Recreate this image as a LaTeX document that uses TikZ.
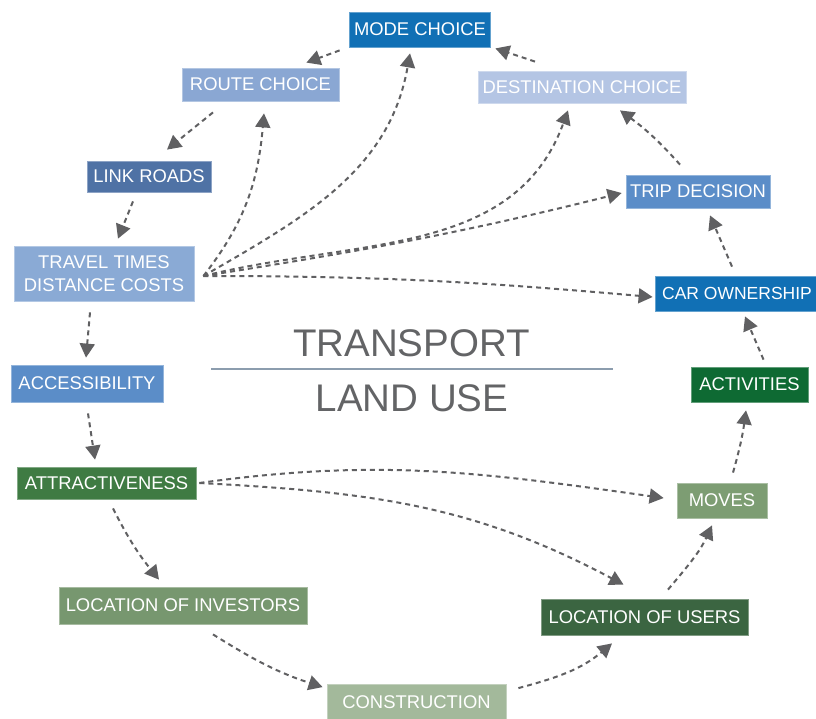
\documentclass[tikz,border=0pt]{standalone}
\usepackage{fontspec}
\setmainfont{Liberation Sans}
\usetikzlibrary{arrows.meta}
\definecolor{cMode}{HTML}{1170B5}
\definecolor{cRoute}{HTML}{8AA7D3}
\definecolor{cDest}{HTML}{B4C5E4}
\definecolor{cLink}{HTML}{4F72A5}
\definecolor{cTT}{HTML}{8AAAD5}
\definecolor{cTrip}{HTML}{5B8DC8}
\definecolor{cAttr}{HTML}{3F7B43}
\definecolor{cInv}{HTML}{77976F}
\definecolor{cCons}{HTML}{A3B99B}
\definecolor{cAct}{HTML}{0E6A33}
\definecolor{cMoves}{HTML}{7D9D73}
\definecolor{cUsers}{HTML}{3B6541}
\definecolor{cArrow}{HTML}{606062}
\definecolor{cTitle}{HTML}{636466}
\definecolor{cLine}{HTML}{8C9DAE}
\newcommand{\boxfont}{\fontsize{18.4}{23}\selectfont}
\begin{document}
\begin{tikzpicture}[x=1pt,y=1pt,
  box/.style={fill=#1, draw=#1!65!white, line width=0.8pt, text=white, font=\boxfont, inner sep=0pt, align=center},
  arr/.style={draw=cArrow, line width=2pt, dash pattern=on 5pt off 4pt, -{Triangle[length=14pt,width=15pt]}},
  title/.style={font=\fontsize{38.5}{40}\selectfont, text=cTitle, inner sep=0pt}]
\fill[white] (0,0) rectangle (816,-718);
\useasboundingbox (0,0) rectangle (816,-718);

\node[box=cMode, minimum width=141pt, minimum height=35pt] (mode) at (420,-29.5) {MODE CHOICE};
\node[box=cRoute, minimum width=157pt, minimum height=33pt] (route) at (260.5,-84.5) {ROUTE CHOICE};
\node[box=cDest, minimum width=208pt, minimum height=32pt] (dest) at (582,-87) {DESTINATION CHOICE};
\node[box=cLink, minimum width=124pt, minimum height=31pt] (link) at (149,-176.5) {LINK ROADS};
\node[box=cTT, minimum width=180pt, minimum height=55pt] (tt) at (104,-273.5) {TRAVEL TIMES\\DISTANCE COSTS};
\node[box=cTrip, minimum width=144pt, minimum height=33pt] (trip) at (698,-191.5) {TRIP DECISION};
\node[box=cMode, minimum width=164pt, minimum height=35pt, font=\fontsize{17.5}{21}\selectfont] (car) at (737,-293.5) {CAR OWNERSHIP};
\node[box=cTrip, minimum width=152pt, minimum height=37pt] (access) at (87,-383.5) {ACCESSIBILITY};
\node[box=cAttr, minimum width=179pt, minimum height=32pt] (attr) at (106.5,-483) {ATTRACTIVENESS};
\node[box=cInv, minimum width=248pt, minimum height=37pt] (inv) at (183,-605.5) {LOCATION OF INVESTORS};
\node[box=cCons, minimum width=179pt, minimum height=35pt] (cons) at (416.5,-702) {CONSTRUCTION};
\node[box=cAct, minimum width=117pt, minimum height=35pt] (act) at (749.5,-384.5) {ACTIVITIES};
\node[box=cMoves, minimum width=90pt, minimum height=35pt] (moves) at (722,-500.5) {MOVES};
\node[box=cUsers, minimum width=207pt, minimum height=36pt] (users) at (644.5,-617) {LOCATION OF USERS};

\node[title] (transport) at (411.5,-343) {TRANSPORT};
\node[title] (landuse) at (412,-398.5) {LAND USE};
\coordinate (sepL) at (211,-369);
\coordinate (sepR) at (613,-369);
\draw[cLine, line width=1.3pt] (sepL) -- (sepR);

% cycle arrows
\draw[arr] ([shift={(-9.5,-3)}]mode.south west) -- ([shift={(-33,5)}]route.north east);
\draw[arr] ([shift={(-47,9)}]dest.north) -- ([shift={(4.5,-1)}]mode.south east);
\draw[arr] ([shift={(-47.5,-11)}]route.south) -- ([shift={(18,11)}]link.north);
\draw[arr] ([shift={(-16,-9)}]link.south) -- ([shift={(14,7)}]tt.north);
\draw[arr] ([shift={(-14,-11)}]tt.south) -- ([shift={(-1,7)}]access.north);
\draw[arr] ([shift={(1,-11)}]access.south) -- ([shift={(-11.5,7)}]attr.north);
\draw[arr] ([shift={(6.5,-9)}]attr.south) to[bend right=6] ([shift={(-24,7)}]inv.north);
\draw[arr] ([shift={(30,-10)}]inv.south) to[out=-32,in=162] ([shift={(-4,-3)}]cons.north west);
\draw[arr] ([shift={(12,-4)}]cons.north east) to[out=15,in=-140] ([shift={(-32.5,-8)}]users.south);
\draw[arr] ([shift={(23.5,9)}]users.north) to[out=50,in=-115] ([shift={(-10,-7)}]moves.south);
\draw[arr] ([shift={(11,10)}]moves.north) to[bend right=4] ([shift={(-3.5,-8)}]act.south);
\draw[arr] ([shift={(14,7)}]act.north) -- ([shift={(8,-5)}]car.south);
\draw[arr] ([shift={(-5,9)}]car.north) -- ([shift={(12,-7)}]trip.south);
\draw[arr] ([shift={(-18,10)}]trip.north) to[bend right=6] ([shift={(38,-7)}]dest.south);

% fan from travel times
\coordinate (ttout) at ([shift={(9,-2.5)}]tt.east);
\draw[arr] (ttout) to[out=52,in=-95] ([shift={(3.5,-12)}]route.south);
\draw[arr] (ttout) to[out=30,in=-100] ([shift={(-10,-6)}]mode.south);
\draw[arr] (ttout) to[out=14,in=-110] ([shift={(-14,-7)}]dest.south);
\draw[arr] (ttout) to[out=9,in=-166] ([shift={(-4,-1.5)}]trip.west);
\draw[arr] (ttout) to[out=0,in=175] ([shift={(-2,-3.5)}]car.west);

% fan from attractiveness
\coordinate (atout) at ([shift={(3,0)}]attr.east);
\draw[arr] (atout) to[out=8,in=172] ([shift={(-13,2.5)}]moves.west);
\draw[arr] (atout) to[out=-3,in=152] ([shift={(-21,14)}]users.north);
\end{tikzpicture}
\end{document}
